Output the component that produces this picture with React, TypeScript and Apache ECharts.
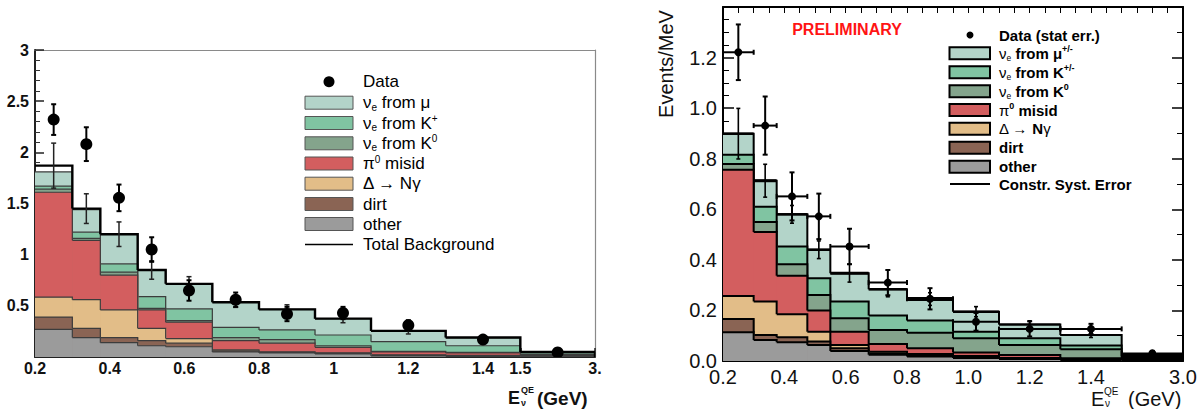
import React, { useEffect, useRef } from "react";
import * as echarts from "echarts";

// ---------- DATA ----------
const binEdges = [0.2, 0.3, 0.375, 0.475, 0.55, 0.675, 0.8, 0.95, 1.1, 1.3, 1.5, 3.0];

const leftXTickValues = [0.2, 0.4, 0.6, 0.8, 1.0, 1.2, 1.4, 1.5, 3.0];
const leftXTickLabels = ["0.2", "0.4", "0.6", "0.8", "1", "1.2", "1.4", "1.5", "3."];
const rightXTickValues = [0.2, 0.4, 0.6, 0.8, 1.0, 1.2, 1.4, 3.0];
const rightXTickLabels = ["0.2", "0.4", "0.6", "0.8", "1.0", "1.2", "1.4", "3.0"];

// Left panel components (per bin contribution)
const leftOther = [0.27, 0.19, 0.14, 0.11, 0.1, 0.05, 0.04, 0.03, 0.01, 0.005, 0.002];
const leftDirt = [0.12, 0.09, 0.05, 0.05, 0.035, 0.01, 0.005, 0.005, 0.005, 0.005, 0.002];
const leftDelta = [0.195, 0.28, 0.27, 0.12, 0.045, 0.01, 0.005, 0.005, 0.005, 0.005, 0.002];
const leftPi0 = [1.025, 0.58, 0.34, 0.18, 0.16, 0.09, 0.085, 0.055, 0.03, 0.025, 0.009];
const leftK0 = [0.03, 0.02, 0.03, 0.015, 0.015, 0.03, 0.035, 0.015, 0.005, 0.005, 0.01];
const leftKplus = [0.03, 0.06, 0.08, 0.115, 0.115, 0.1, 0.095, 0.105, 0.095, 0.065, 0.015];
const leftMu = [0.14, 0.22, 0.29, 0.26, 0.245, 0.245, 0.2, 0.16, 0.105, 0.08, 0.01];
const leftTotal = [1.87, 1.45, 1.2, 0.85, 0.715, 0.535, 0.465, 0.375, 0.255, 0.19, 0.05];
const leftTotalErr = [0.22, 0.145, 0.12, 0.09, 0.07, 0.05, 0.045, 0.04, 0.03, 0.02, 0.005];
const leftData = [2.32, 2.08, 1.555, 1.05, 0.65, 0.56, 0.42, 0.43, 0.31, 0.17, 0.045];
const leftDataErr = [0.15, 0.165, 0.13, 0.12, 0.1, 0.07, 0.07, 0.06, 0.05, 0.03, 0.01];

// Right panel components (Events/MeV)
const rightOther = [0.114, 0.083, 0.074, 0.063, 0.04, 0.025, 0.018, 0.012, 0.008, 0.004, 0.003];
const rightDirt = [0.052, 0.02, 0.02, 0.014, 0.01, 0.005, 0.004, 0.004, 0.002, 0.001, 0.001];
const rightDelta = [0.091, 0.132, 0.091, 0.039, 0.013, 0.007, 0.006, 0.004, 0.002, 0.001, 0.001];
const rightPi0 = [0.499, 0.275, 0.152, 0.084, 0.053, 0.03, 0.022, 0.014, 0.012, 0.005, 0.002];
const rightK0 = [0.023, 0.04, 0.046, 0.061, 0.053, 0.056, 0.062, 0.056, 0.039, 0.035, 0.003];
const rightKplus = [0.037, 0.06, 0.07, 0.066, 0.066, 0.057, 0.048, 0.026, 0.027, 0.015, 0.002];
const rightMu = [0.083, 0.103, 0.127, 0.113, 0.112, 0.104, 0.085, 0.079, 0.054, 0.042, 0.003];
const rightSystBand = [0.005, 0.006, 0.005, 0.005, 0.006, 0.005, 0.008, 0.005, 0.004, 0.004, 0.015];
const rightBgErr = [0.1, 0.065, 0.035, 0.035, 0.035, 0.03, 0.025, 0.02, 0.015, 0.01, 0.005];
const rightData = [1.221, 0.931, 0.651, 0.572, 0.453, 0.31, 0.246, 0.155, 0.127, 0.127, 0.03];
const rightDataErr = [0.11, 0.115, 0.095, 0.09, 0.07, 0.05, 0.042, 0.035, 0.03, 0.02, 0.01];

// ---------- STYLE ----------
const FONT = "'Liberation Sans', Arial, Helvetica, sans-serif";
const layerNames = ["other", "dirt", "Δ → Nγ", "π0 misid", "νe from K0", "νe from K+", "νe from μ"];
const layerColors = ["#9b9b9b", "#8a6454", "#e2bd88", "#d35e5f", "#84a48c", "#80c4a2", "#b3d4c9"];

// the last bin (1.5 – 3.0 GeV) is compressed on the axis
const toDisp = (x: number) => (x <= 1.5 ? x : 1.5 + ((x - 1.5) * 0.2) / 1.5);

function cumulate(layers: number[][]) {
  const out: number[][] = [];
  layers.forEach((l, k) => out.push(l.map((v, i) => v + (k > 0 ? out[k - 1][i] : 0))));
  return out;
}

function stepData(tops: number[]) {
  return tops.map((h, i) => [
    toDisp(binEdges[i]),
    toDisp(binEdges[i + 1]),
    h,
    i + 1 < tops.length ? tops[i + 1] : 0,
  ]);
}

function pointData(vals: number[], errs: number[]) {
  return vals.map((v, i) => {
    const x0 = toDisp(binEdges[i]);
    const x1 = toDisp(binEdges[i + 1]);
    return [(x0 + x1) / 2, v, errs[i], x0, x1];
  });
}

const stepRender = (fill: string | null, stroke: string, lw: number) => (params: any, api: any) => {
  const x0 = api.value(0), x1 = api.value(1), h = api.value(2), nh = api.value(3);
  const tl = api.coord([x0, h]);
  const br = api.coord([x1, 0]);
  const nx = api.coord([x1, nh]);
  const children: any[] = [];
  if (fill) {
    children.push({
      type: "rect",
      shape: { x: tl[0], y: tl[1], width: br[0] - tl[0] + 0.6, height: br[1] - tl[1] },
      style: { fill },
    });
  }
  children.push({
    type: "polyline",
    shape: { points: [[tl[0], tl[1]], [br[0], tl[1]], [br[0], nx[1]]] },
    style: { stroke, lineWidth: lw, fill: null },
  });
  return { type: "group", children };
};

const errRender = (radius: number, cap: number, lw: number, withX: boolean, stroke = "#000") =>
  (params: any, api: any) => {
    const xc = api.value(0), y = api.value(1), e = api.value(2), x0 = api.value(3), x1 = api.value(4);
    const c = api.coord([xc, y]);
    const t = api.coord([xc, y + e]);
    const b = api.coord([xc, Math.max(0, y - e)]);
    const st = { stroke, lineWidth: lw };
    const children: any[] = [
      { type: "line", shape: { x1: c[0], y1: t[1], x2: c[0], y2: b[1] }, style: st },
      { type: "line", shape: { x1: c[0] - cap, y1: t[1], x2: c[0] + cap, y2: t[1] }, style: st },
      { type: "line", shape: { x1: c[0] - cap, y1: b[1], x2: c[0] + cap, y2: b[1] }, style: st },
    ];
    if (withX) {
      const l = api.coord([x0, y]);
      const r = api.coord([x1, y]);
      children.push({ type: "line", shape: { x1: l[0], y1: c[1], x2: r[0], y2: c[1] }, style: st });
      children.push({ type: "line", shape: { x1: l[0], y1: c[1] - cap, x2: l[0], y2: c[1] + cap }, style: st });
      children.push({ type: "line", shape: { x1: r[0], y1: c[1] - cap, x2: r[0], y2: c[1] + cap }, style: st });
    }
    if (radius > 0) {
      children.push({ type: "circle", shape: { cx: c[0], cy: c[1], r: radius }, style: { fill: "#000" } });
    }
    return { type: "group", children };
  };

function bandRender(params: any, api: any) {
  const x0 = api.value(0), x1 = api.value(1), h = api.value(2), e = api.value(3);
  const tl = api.coord([x0, h + e]);
  const br = api.coord([x1, Math.max(0, h - e)]);
  return {
    type: "rect",
    shape: { x: tl[0], y: tl[1], width: br[0] - tl[0], height: Math.max(2, br[1] - tl[1]) },
    style: { fill: "#000" },
  };
}

function labelFormatter(values: number[], labels: string[]) {
  return (v: number) => {
    const idx = values.findIndex((x) => Math.abs(toDisp(x) - v) < 1e-6);
    return idx >= 0 ? labels[idx] : "";
  };
}

function buildOption() {
  const leftCum = cumulate([leftOther, leftDirt, leftDelta, leftPi0, leftK0, leftKplus, leftMu]);
  const rightCum = cumulate([rightOther, rightDirt, rightDelta, rightPi0, rightK0, rightKplus, rightMu]);
  const rightTotal = rightCum[6];

  const series: any[] = [];
  // draw from the top layer down so every outline stays visible
  for (let k = 6; k >= 0; k--) {
    series.push({
      type: "custom",
      name: "L " + layerNames[k],
      xAxisIndex: 0,
      yAxisIndex: 0,
      z: 2 + (6 - k),
      clip: true,
      encode: { x: [0, 1], y: 2 },
      data: stepData(leftCum[k]),
      renderItem: stepRender(layerColors[k], "#3c3c3c", 1.2),
    });
  }
  series.push({
    type: "custom",
    name: "Total Background",
    xAxisIndex: 0,
    yAxisIndex: 0,
    z: 10,
    clip: true,
    encode: { x: [0, 1], y: 2 },
    data: stepData(leftTotal),
    renderItem: stepRender(null, "#000", 2.4),
  });
  series.push({
    type: "custom",
    name: "Total Background error",
    xAxisIndex: 0,
    yAxisIndex: 0,
    z: 11,
    clip: true,
    encode: { x: 0, y: 1 },
    data: pointData(leftTotal, leftTotalErr),
    renderItem: errRender(0, 2.5, 1.5, false, "#222"),
  });
  series.push({
    type: "custom",
    name: "Data",
    xAxisIndex: 0,
    yAxisIndex: 0,
    z: 12,
    clip: true,
    encode: { x: 0, y: 1 },
    data: pointData(leftData, leftDataErr),
    renderItem: errRender(6, 2.5, 2, false),
  });

  for (let k = 6; k >= 0; k--) {
    series.push({
      type: "custom",
      name: "R " + layerNames[k],
      xAxisIndex: 3,
      yAxisIndex: 2,
      z: 2 + (6 - k),
      clip: true,
      encode: { x: [0, 1], y: 2 },
      data: stepData(rightCum[k]),
      renderItem: stepRender(layerColors[k], "#000", 2),
    });
  }
  series.push({
    type: "custom",
    name: "Constr. Syst. Error",
    xAxisIndex: 3,
    yAxisIndex: 2,
    z: 10,
    clip: true,
    encode: { x: [0, 1], y: 2 },
    data: rightTotal.map((h, i) => [
      toDisp(binEdges[i]),
      toDisp(binEdges[i + 1]),
      h,
      rightSystBand[i],
    ]),
    renderItem: bandRender,
  });
  series.push({
    type: "custom",
    name: "Background syst bars",
    xAxisIndex: 3,
    yAxisIndex: 2,
    z: 11,
    clip: true,
    encode: { x: 0, y: 1 },
    data: pointData(rightTotal, rightBgErr),
    renderItem: errRender(0, 2, 1.6, false),
  });
  series.push({
    type: "custom",
    name: "Data (stat err.)",
    xAxisIndex: 3,
    yAxisIndex: 2,
    z: 12,
    clip: true,
    encode: { x: 0, y: 1 },
    data: pointData(rightData, rightDataErr),
    renderItem: errRender(4, 2.5, 2, true),
  });

  const axisBase = { type: "value", splitLine: { show: false } };

  const xAxis = [
    // left: main bottom axis
    {
      ...axisBase, gridIndex: 0, min: 0.2, max: 1.7, position: "bottom",
      axisLine: { show: true, lineStyle: { color: "#222", width: 2 } },
      axisTick: { show: true, inside: true, length: 9, customValues: leftXTickValues.map(toDisp), lineStyle: { color: "#222", width: 1.5 } },
      axisLabel: {
        customValues: leftXTickValues.map(toDisp), formatter: labelFormatter(leftXTickValues, leftXTickLabels),
        fontFamily: FONT, fontWeight: "bold", fontSize: 16, color: "#111", margin: 3,
      },
    },
    // left: minor ticks
    {
      ...axisBase, gridIndex: 0, min: 0.2, max: 1.7, interval: 0.05, position: "bottom",
      axisLine: { show: false }, axisLabel: { show: false },
      axisTick: { show: true, inside: true, length: 5, lineStyle: { color: "#333", width: 1 } },
    },
    // left: top frame
    {
      ...axisBase, gridIndex: 0, min: 0.2, max: 1.7, position: "top",
      axisLine: { show: true, lineStyle: { color: "#8a8a8a", width: 1.2 } },
      axisTick: { show: false }, axisLabel: { show: false },
    },
    // right: main bottom axis
    {
      ...axisBase, gridIndex: 1, min: 0.2, max: 1.7, position: "bottom",
      axisLine: { show: true, lineStyle: { color: "#000", width: 2 } },
      axisTick: { show: true, inside: true, length: 11, customValues: rightXTickValues.map(toDisp), lineStyle: { color: "#000", width: 1.5 } },
      axisLabel: {
        customValues: rightXTickValues.map(toDisp), formatter: labelFormatter(rightXTickValues, rightXTickLabels),
        fontFamily: FONT, fontSize: 20, lineHeight: 16, color: "#111", margin: 8,
      },
    },
    // right: minor ticks
    {
      ...axisBase, gridIndex: 1, min: 0.2, max: 1.7, interval: 0.05, position: "bottom",
      axisLine: { show: false }, axisLabel: { show: false },
      axisTick: { show: true, inside: true, length: 6, lineStyle: { color: "#000", width: 1 } },
    },
    // right: top frame with ticks
    {
      ...axisBase, gridIndex: 1, min: 0.2, max: 1.7, interval: 0.05, position: "top",
      axisLine: { show: true, lineStyle: { color: "#000", width: 2 } },
      axisTick: { show: true, inside: true, length: 6, lineStyle: { color: "#000", width: 1 } },
      axisLabel: { show: false },
    },
  ];

  const yAxis = [
    {
      ...axisBase, gridIndex: 0, min: 0, max: 3, interval: 0.5, position: "left",
      axisLine: { show: true, lineStyle: { color: "#222", width: 2 } },
      axisTick: { show: true, inside: true, length: 9, lineStyle: { color: "#222", width: 1.5 } },
      minorTick: { show: true, splitNumber: 5, length: 5, lineStyle: { color: "#333", width: 1 } },
      minorSplitLine: { show: false },
      axisLabel: {
        formatter: (v: number) => (v === 0 ? "" : String(v)),
        fontFamily: FONT, fontWeight: "bold", fontSize: 16, color: "#111", margin: 6,
      },
    },
    {
      ...axisBase, gridIndex: 0, min: 0, max: 3, interval: 0.5, position: "right",
      axisLine: { show: true, lineStyle: { color: "#8a8a8a", width: 1.2 } },
      axisTick: { show: false }, axisLabel: { show: false },
    },
    {
      ...axisBase, gridIndex: 1, min: 0, max: 1.4, interval: 0.2, position: "left",
      axisLine: { show: true, lineStyle: { color: "#000", width: 2 } },
      axisTick: { show: true, inside: true, length: 11, lineStyle: { color: "#000", width: 1.5 } },
      minorTick: { show: true, splitNumber: 4, length: 6, lineStyle: { color: "#000", width: 1 } },
      minorSplitLine: { show: false },
      axisLabel: {
        formatter: (v: number) => (v > 1.3 ? "" : v.toFixed(1)),
        fontFamily: FONT, fontSize: 20, lineHeight: 16, color: "#111", margin: 6,
      },
    },
    {
      ...axisBase, gridIndex: 1, min: 0, max: 1.4, interval: 0.2, position: "right",
      axisLine: { show: true, lineStyle: { color: "#000", width: 2 } },
      axisTick: { show: true, inside: true, length: 11, lineStyle: { color: "#000", width: 1.5 } },
      minorTick: { show: true, splitNumber: 2, length: 6, lineStyle: { color: "#000", width: 1 } },
      minorSplitLine: { show: false },
      axisLabel: { show: false },
    },
  ];

  // ---------- legends and titles (graphic) ----------
  const graphic: any[] = [];
  const legendOrder = [6, 5, 4, 3, 2, 1, 0]; // top of legend = top of stack

  // left legend
  const lRich = {
    t: { fontFamily: FONT, fontSize: 17, lineHeight: 19, color: "#111" },
    s: { fontFamily: FONT, fontSize: 10, lineHeight: 8, verticalAlign: "bottom", color: "#111" },
    p: { fontFamily: FONT, fontSize: 10, lineHeight: 9, verticalAlign: "top", color: "#111" },
  };
  const lLabels = [
    "{t|ν}{s|e}{t| from μ}",
    "{t|ν}{s|e}{t| from K}{p|+}",
    "{t|ν}{s|e}{t| from K}{p|0}",
    "{t|π}{p|0}{t| misid}",
    "{t|Δ → Nγ}",
    "{t|dirt}",
    "{t|other}",
  ];
  const lRows = [102.7, 123, 143.3, 163.5, 183.7, 204, 224];
  graphic.push({ type: "circle", shape: { cx: 329, cy: 81.7, r: 5.5 }, style: { fill: "#000" } });
  graphic.push({ type: "text", x: 363, y: 81.7, style: { text: "{t|Data}", rich: lRich, verticalAlign: "middle", align: "left" } });
  legendOrder.forEach((k, r) => {
    graphic.push({
      type: "rect", shape: { x: 305, y: lRows[r] - 6.5, width: 48, height: 13 },
      style: { fill: layerColors[k], stroke: "#555", lineWidth: 1 },
    });
    graphic.push({ type: "text", x: 363, y: lRows[r], style: { text: lLabels[r], rich: lRich, verticalAlign: "middle", align: "left" } });
  });
  graphic.push({ type: "line", shape: { x1: 305, y1: 244.5, x2: 353, y2: 244.5 }, style: { stroke: "#000", lineWidth: 1.6 } });
  graphic.push({ type: "text", x: 363, y: 244.5, style: { text: "{t|Total Background}", rich: lRich, verticalAlign: "middle", align: "left" } });

  // right legend
  const rRich = {
    t: { fontFamily: FONT, fontSize: 15, fontWeight: "bold", lineHeight: 18, color: "#111" },
    n: { fontFamily: FONT, fontSize: 15, lineHeight: 18, color: "#111" },
    s: { fontFamily: FONT, fontSize: 8.5, lineHeight: 7, verticalAlign: "bottom", color: "#111" },
    p: { fontFamily: FONT, fontSize: 9, fontWeight: "bold", lineHeight: 8, verticalAlign: "top", color: "#111" },
  };
  const rLabels = [
    "{n|ν}{s|e}{t| from μ}{p|+/-}",
    "{n|ν}{s|e}{t| from K}{p|+/-}",
    "{n|ν}{s|e}{t| from K}{p|0}",
    "{n|π}{p|0}{t| misid}",
    "{n|Δ → }{t|N}{n|γ}",
    "{t|dirt}",
    "{t|other}",
  ];
  const rRows = [53.3, 72.2, 91.2, 110, 128.8, 147.8, 166.7];
  graphic.push({ type: "circle", shape: { cx: 970, cy: 35, r: 3.5 }, style: { fill: "#000" } });
  graphic.push({ type: "text", x: 999, y: 35, style: { text: "{t|Data (stat err.)}", rich: rRich, verticalAlign: "middle", align: "left" } });
  legendOrder.forEach((k, r) => {
    graphic.push({
      type: "rect", shape: { x: 949.5, y: rRows[r] - 6, width: 40.5, height: 12 },
      style: { fill: layerColors[k], stroke: "#000", lineWidth: 2 },
    });
    graphic.push({ type: "text", x: 999, y: rRows[r], style: { text: rLabels[r], rich: rRich, verticalAlign: "middle", align: "left" } });
  });
  graphic.push({ type: "line", shape: { x1: 950, y1: 184, x2: 990, y2: 184 }, style: { stroke: "#000", lineWidth: 2 } });
  graphic.push({ type: "text", x: 999, y: 184, style: { text: "{t|Constr. Syst. Error}", rich: rRich, verticalAlign: "middle", align: "left" } });

  // PRELIMINARY
  graphic.push({
    type: "text", x: 847, y: 29,
    style: { text: "PRELIMINARY", fill: "#ff1414", font: `bold 16px ${FONT}`, align: "center", verticalAlign: "middle" },
  });

  // axis titles
  graphic.push({ type: "text", x: 508, y: 398, style: { text: "E", fill: "#111", font: `bold 18px ${FONT}`, verticalAlign: "middle" } });
  graphic.push({ type: "text", x: 521, y: 390, style: { text: "QE", fill: "#111", font: `bold 9px ${FONT}`, verticalAlign: "middle" } });
  graphic.push({ type: "text", x: 521, y: 403, style: { text: "ν", fill: "#111", font: `bold 9px ${FONT}`, verticalAlign: "middle" } });
  graphic.push({ type: "text", x: 537, y: 398, style: { text: "(GeV)", fill: "#111", font: `bold 19px ${FONT}`, verticalAlign: "middle" } });

  graphic.push({ type: "text", x: 1091, y: 398.5, style: { text: "E", fill: "#111", font: `20px ${FONT}`, verticalAlign: "middle" } });
  graphic.push({ type: "text", x: 1104, y: 391, style: { text: "QE", fill: "#111", font: `10px ${FONT}`, verticalAlign: "middle" } });
  graphic.push({ type: "text", x: 1105, y: 403, style: { text: "ν", fill: "#111", font: `10px ${FONT}`, verticalAlign: "middle" } });
  graphic.push({ type: "text", x: 1128, y: 398.5, style: { text: "(GeV)", fill: "#111", font: `20px ${FONT}`, verticalAlign: "middle" } });

  graphic.push({
    type: "text", x: 666, y: 64, rotation: Math.PI / 2,
    style: { text: "Events/MeV", fill: "#111", font: `20px ${FONT}`, align: "center", verticalAlign: "middle" },
  });

  return {
    animation: false,
    backgroundColor: "#ffffff",
    grid: [
      { left: 35, top: 50, width: 560, height: 307 },
      { left: 723, top: 7, width: 460, height: 354 },
    ],
    xAxis,
    yAxis,
    series,
    graphic,
  };
}

export default function App() {
  const ref = useRef<HTMLDivElement>(null);
  useEffect(() => {
    if (!ref.current) return;
    const chart = echarts.init(ref.current, null, { renderer: "svg" });
    chart.setOption(buildOption() as any);
    return () => chart.dispose();
  }, []);
  return (
    <div
      ref={ref}
      style={{ position: "absolute", left: 0, top: 0, width: 1200, height: 409, background: "#fff" }}
    />
  );
}
